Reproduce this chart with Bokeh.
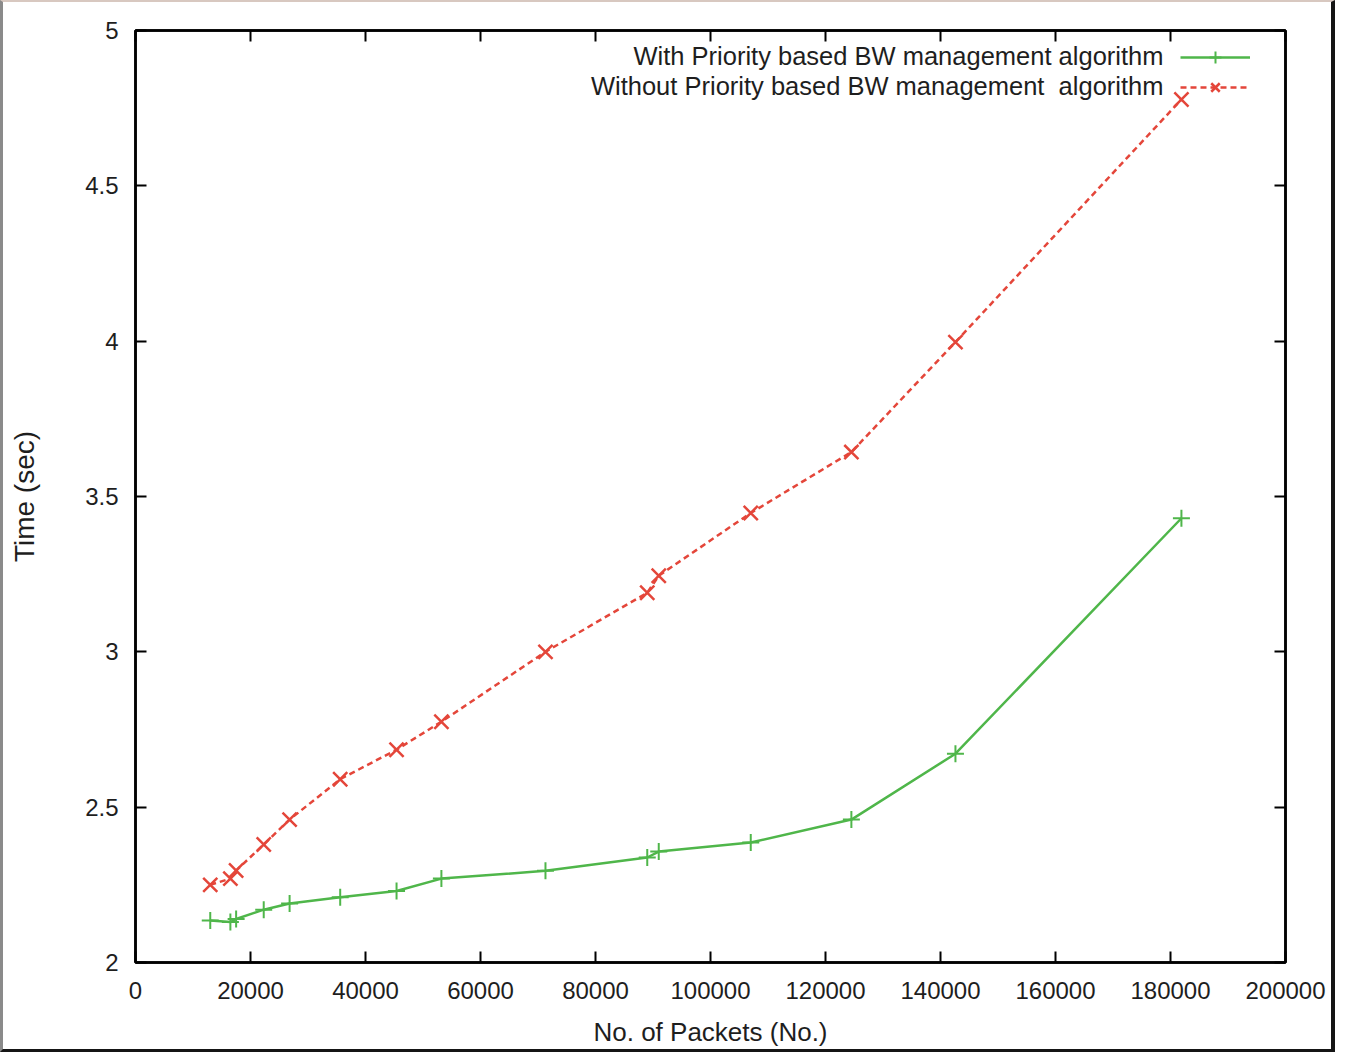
from bokeh.plotting import figure
from bokeh.models import (Range1d, LinearAxis, FixedTicker, Legend, LegendItem, Label)
from bokeh.embed import file_html
from bokeh.resources import INLINE

# ---- data ----
packets = [13000, 16500, 17500, 22300, 26800, 35600, 45400, 53200, 71300, 89000, 91000, 107000, 124500, 142600, 181900]
time_with = [2.135, 2.13, 2.14, 2.17, 2.19, 2.21, 2.23, 2.27, 2.295, 2.338, 2.357, 2.386, 2.46, 2.672, 3.43]
time_without = [2.25, 2.27, 2.296, 2.38, 2.46, 2.59, 2.685, 2.775, 3.0, 3.19, 3.245, 3.447, 3.643, 3.997, 4.778]

x_ticks = [0, 20000, 40000, 60000, 80000, 100000, 120000, 140000, 160000, 180000, 200000]
x_tick_labels = ["0", "20000", "40000", "60000", "80000", "100000", "120000", "140000", "160000", "180000", "200000"]
y_ticks = [2, 2.5, 3, 3.5, 4, 4.5, 5]
y_tick_labels = ["2", "2.5", "3", "3.5", "4", "4.5", "5"]

label_with = "With Priority based BW management algorithm"
label_without = "Without Priority based BW management\u00a0 algorithm"

GREEN = "#4fb64a"
RED = "#e4463a"
FONT = "Liberation Sans"
TXT = "#1e1e1e"

p = figure(frame_width=1150, frame_height=932, output_backend="svg", toolbar_location=None,
           x_range=Range1d(0, 200000), y_range=Range1d(2, 5),
           min_border_left=132, min_border_top=28, min_border_bottom=86, min_border_right=46)
p.styles = {"border-left": "3px solid #8a8a8a", "border-top": "2px solid #d8c8c0",
            "border-right": "4px solid #151515", "border-bottom": "3px solid #151515"}
p.xgrid.visible = False
p.ygrid.visible = False
p.outline_line_color = "black"
p.outline_line_width = 2.5
p.background_fill_color = "white"
p.border_fill_color = "white"

def style_axis(ax, ticks, labels, show_labels=True):
    ax.ticker = FixedTicker(ticks=ticks)
    ax.major_label_overrides = {t: (l if show_labels else "") for t, l in zip(ticks, labels)}
    ax.major_tick_in = 11
    ax.major_tick_out = 0
    ax.minor_tick_line_color = None
    ax.axis_line_width = 2.5
    ax.axis_line_color = "black"
    ax.major_tick_line_width = 2
    ax.major_tick_line_color = "black"
    ax.major_label_text_font = FONT
    ax.major_label_text_font_size = "24px"
    ax.major_label_text_color = TXT
    ax.axis_label_text_font = FONT
    ax.axis_label_text_font_style = "normal"
    ax.axis_label_text_font_size = "26px"
    ax.axis_label_text_color = TXT

style_axis(p.xaxis[0], x_ticks, x_tick_labels)
style_axis(p.yaxis[0], y_ticks, y_tick_labels)
p.xaxis[0].axis_label = "No. of Packets (No.)"
p.xaxis[0].major_label_standoff = 19
p.xaxis[0].axis_label_standoff = 15
p.yaxis[0].axis_label = "Time (sec)"
p.yaxis[0].axis_label_text_font_size = "28px"
p.yaxis[0].major_label_standoff = 17
p.yaxis[0].axis_label_standoff = 42

top = LinearAxis(major_label_standoff=0)
style_axis(top, x_ticks, x_tick_labels, show_labels=False)
p.add_layout(top, "above")
right = LinearAxis(major_label_standoff=0)
style_axis(right, y_ticks, y_tick_labels, show_labels=False)
p.add_layout(right, "right")

# series
l1 = p.line(packets, time_with, line_color=GREEN, line_width=2.5)
m1 = p.scatter(packets, time_with, marker="cross", size=17, line_color=GREEN, line_width=2)
l2 = p.line(packets, time_without, line_color=RED, line_width=2.5, line_dash="6 4")
m2 = p.scatter(packets, time_without, marker="x", size=20, line_color=RED, line_width=2.5)

legend = Legend(items=[LegendItem(label=" ", renderers=[l1, m1]),
                       LegendItem(label=" ", renderers=[l2, m2])],
                location="top_right", margin=12, padding=0, spacing=0,
                glyph_width=70, glyph_height=30, label_standoff=3,
                label_text_font_size="10px", border_line_color=None,
                background_fill_alpha=0)
p.add_layout(legend)

for txt, yy in [(label_with, 907), (label_without, 877)]:
    p.add_layout(Label(x=1028, y=yy, x_units="screen", y_units="screen", text=txt,
                       text_align="right", text_baseline="middle",
                       text_font=FONT, text_font_size="25.5px", text_color=TXT))

open("out.html", "w").write(file_html(p, INLINE))
